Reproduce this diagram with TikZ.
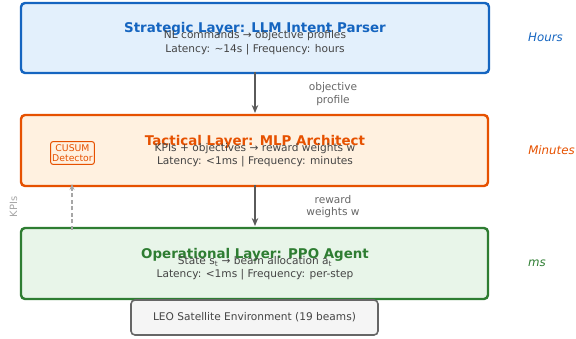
\documentclass[tikz,border=0pt]{standalone}
\usepackage{fontspec}
\setmainfont{DejaVu Sans}
\usetikzlibrary{arrows.meta}
\definecolor{sblue}{HTML}{1565C0}
\definecolor{sbluef}{HTML}{E3F0FC}
\definecolor{torange}{HTML}{E65100}
\definecolor{torangef}{HTML}{FFF1E0}
\definecolor{ogreen}{HTML}{2E7D32}
\definecolor{ogreenf}{HTML}{E8F5E9}
\definecolor{txtgray}{HTML}{444444}
\definecolor{lblgray}{HTML}{666666}
\definecolor{arrgray}{HTML}{5A5A5A}
\tikzset{
  layer/.style={draw=#1, line width=2.4pt, rounded corners=4pt},
  ttl/.style={font=\bfseries\fontsize{13.4}{15}\selectfont, text=#1, inner sep=0},
  body/.style={font=\fontsize{10.6}{12}\selectfont, text=txtgray, inner sep=0, align=center},
  lbl/.style={font=\fontsize{10.6}{12.5}\selectfont, text=lblgray, inner sep=0, align=center},
  side/.style={font=\itshape\fontsize{11.8}{13}\selectfont, text=#1, inner sep=0},
  flow/.style={draw=arrgray, line width=1.5pt, -{Stealth[length=8pt,width=6.5pt]}},
}
\begin{document}
\begin{tikzpicture}[x=1pt,y=-1pt]
\useasboundingbox (0,0) rectangle (576,339);
% layers
\draw[layer=sblue, fill=sbluef] (21,3) rectangle (489,73);
\draw[layer=torange, fill=torangef] (21,115) rectangle (488,186);
\draw[layer=ogreen, fill=ogreenf] (21,228) rectangle (488,299);
\node[draw=lblgray, line width=1.6pt, rounded corners=4pt, fill=black!4, minimum width=247pt, minimum height=35pt, inner sep=0, font=\fontsize{10.6}{12}\selectfont, text=txtgray] (env) at (254.5,317.5) {LEO Satellite Environment (19 beams)};
% coordinates for layer anchors
\coordinate (sbot) at (255,72);
\coordinate (ttop) at (255,113);
\coordinate (tbot) at (255,185);
\coordinate (otop) at (255,226);
% titles
\node[ttl=sblue] (st) at (255,28.5) {Strategic Layer: LLM Intent Parser};
\node[body] (s1) at (255,36) {NL commands → objective profiles};
\node[body] (s2) at (255,49.5) {Latency: \textasciitilde14s | Frequency: hours};
\node[ttl=torange] (tt) at (255,141.5) {Tactical Layer: MLP Architect};
\node[body] (t1) at (255,148.5) {KPIs + objectives → reward weights w};
\node[body] (t2) at (255,162) {Latency: <1ms | Frequency: minutes};
\node[ttl=ogreen] (ot) at (255,254.5) {Operational Layer: PPO Agent};
\node[body] (o1) at (255,261.5) {State s\textsubscript{t} → beam allocation a\textsubscript{t}};
\node[body] (o2) at (255,275) {Latency: <1ms | Frequency: per-step};
% arrows
\draw[flow] (sbot) -- (ttop);
\draw[flow] (tbot) -- (otop);
\node[lbl] (l1) at (333,94) {objective\\profile};
\node[lbl] (l2) at (333,206.5) {reward\\weights w};
% CUSUM
\node[draw=torange, line width=1pt, rounded corners=2pt, fill=torangef, inner xsep=1.5pt, inner ysep=2.5pt, align=center, font=\fontsize{9.3}{10.5}\selectfont, text=torange] (cusum) at (72.5,153) {CUSUM\\Detector};
\coordinate (kpisrc) at (72,230);
\coordinate (kpidst) at (72,184);
\draw[draw=black!35, line width=1.2pt, dash pattern=on 4pt off 2.5pt, -{Stealth[length=6pt,width=5pt]}] (kpisrc) -- (kpidst);
\node[rotate=90, font=\fontsize{10}{11}\selectfont, text=black!35, inner sep=0] (kpis) at (13.5,207) {KPIs};
% side labels
\node[side=sblue] (h) at (545.5,37) {Hours};
\node[side=torange] (m) at (551.5,150) {Minutes};
\node[side=ogreen] (ms) at (537,263) {ms};
\end{tikzpicture}
\end{document}
